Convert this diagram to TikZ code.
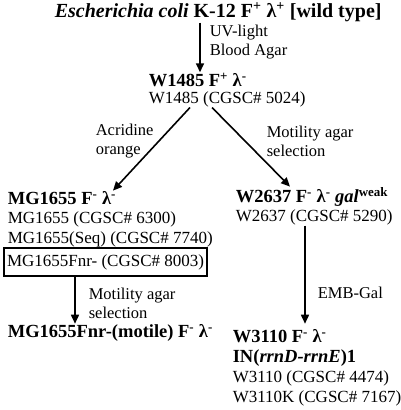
\documentclass[tikz,border=0pt]{standalone}
\usepackage{fontspec}
\setmainfont{Liberation Serif}
\usetikzlibrary{arrows.meta}

\begin{document}
\begin{tikzpicture}[x=1pt,y=-1pt,line width=1.6pt,
  >={Triangle[length=9pt,width=8pt]},
  every node/.style={inner sep=0pt,anchor=west,font=\fontsize{17}{20}\selectfont},
  hd/.style={font=\fontsize{18.5}{20}\selectfont\bfseries,align=left},
  lbl/.style={align=left,font=\fontsize{16.5}{19}\selectfont}]
\useasboundingbox (0,0) rectangle (400,410);
\node[hd,font=\fontsize{20}{20}\selectfont\bfseries] at (54,12) (top) {\textit{Escherichia coli} K-12 F\textsuperscript{+} λ\textsuperscript{+} [wild type]};
\node[lbl] at (209,42) (uv) {UV-light\\Blood Agar};
\node[hd] at (148,80) (w1485) {W1485 F\textsuperscript{+} λ\textsuperscript{-}};
\node at (148,99) (w1485c) {W1485 (CGSC\# 5024)};
\node[lbl] at (95,141) (acr) {Acridine\\orange};
\node[lbl] at (266,141) (mot1) {Motility agar\\selection};
\node[hd] at (7,198) (mg) {MG1655 F\textsuperscript{-} λ\textsuperscript{-}};
\node at (7,219) (mg1) {MG1655 (CGSC\# 6300)};
\node at (7,239) (mg2) {MG1655(Seq) (CGSC\# 7740)};
\node[draw,inner xsep=3pt,minimum height=28pt,line width=2pt] at (3,262) (fnr) {MG1655Fnr- (CGSC\# 8003)};
\node[lbl] at (88,303) (mot2) {Motility agar\\selection};
\node[hd] at (7,333) (motile) {MG1655Fnr-(motile) F\textsuperscript{-} λ\textsuperscript{-}};
\node[hd] at (235,197) (w2637) {W2637 F\textsuperscript{-} λ\textsuperscript{-} \textit{gal}\textsuperscript{weak}};
\node at (235,217) (w2637c) {W2637 (CGSC\# 5290)};
\node[lbl] at (317,293) (emb) {EMB-Gal};
\node[hd] at (232,348) (w3110) {W3110 F\textsuperscript{-} λ\textsuperscript{-}\\IN(\textit{rrnD-rrnE})1};
\node[align=left] at (232,388) (w3110c) {W3110 (CGSC\# 4474)\\W3110K (CGSC\# 7167)};
\draw[->] (top.south -| 200,0) -- (w1485.north -| 200,0);
\draw[->] (w1485c.south -| 190,0) -- (mg.north -| 113,0);
\draw[->] (w1485c.south -| 212,0) -- (w2637.north -| 290,0);
\draw[->] (fnr.south -| 75,0) -- (motile.north -| 75,0);
\draw[->,shorten >=5pt] (w2637c.south -| 305,0) -- (w3110.north -| 305,0);
\end{tikzpicture}
\end{document}
